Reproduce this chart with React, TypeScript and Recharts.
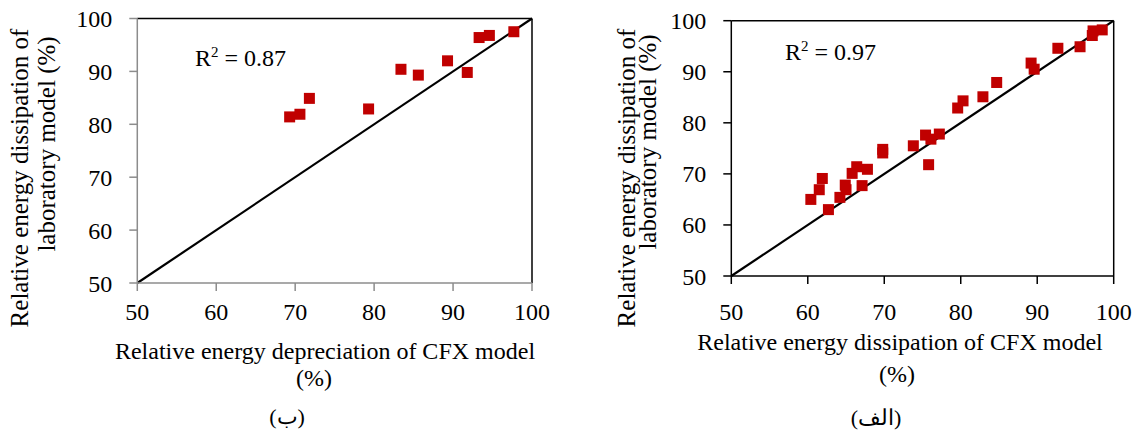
import React from "react";
import {
  ReferenceLine,
  Scatter,
  ScatterChart,
  XAxis,
  YAxis,
} from "recharts";

// Two "CFX vs laboratory" scatter panels with a 1:1 line.
// Panel (ب) on the left, panel (الف) on the right.

const TICKS = [50, 60, 70, 80, 90, 100];

// left panel (ب)
const leftCfx = [69.3, 70.6, 71.8, 79.3, 83.4, 85.6, 89.3, 91.8, 93.3, 94.6, 97.7];
const leftLab = [81.4, 81.9, 84.9, 82.9, 90.4, 89.3, 92.0, 89.8, 96.4, 96.8, 97.5];

// right panel (الف)
const rightCfx = [
  60.4, 61.5, 61.9, 62.7, 64.2, 64.9, 65.0, 65.8, 66.4, 67.1, 67.8, 69.8, 69.8,
  73.8, 75.4, 76.1, 77.2, 75.8, 79.6, 80.3, 82.9, 84.7, 89.2, 89.6, 92.7, 95.6,
  97.2, 97.3, 98.5,
];
const rightLab = [
  65.0, 66.9, 69.1, 63.0, 65.4, 67.8, 66.9, 70.1, 71.4, 67.7, 70.9, 74.8, 74.1,
  75.5, 77.6, 76.8, 77.8, 71.8, 82.9, 84.3, 85.1, 87.9, 91.7, 90.5, 94.6, 94.9,
  97.1, 98.0, 98.2,
];

const FONT = "'Liberation Serif', 'Times New Roman', serif";
const RED = "#C00000";
const Y_W = 60;
const X_H = 40;

const Square = (props: any) => {
  const { cx, cy } = props;
  if (cx == null || cy == null) return null;
  return <rect x={cx - 5.5} y={cy - 5.5} width={11} height={11} fill={RED} />;
};

type PanelProps = {
  left: number;
  width: number;
  margin: { top: number; right: number; bottom: number; left: number };
  cfx: number[];
  lab: number[];
  axisColor: string;
  tickGapX: number;
};

function Panel({ left, width, margin, cfx, lab, axisColor, tickGapX }: PanelProps) {
  const data = cfx.map((x, i) => ({ cfx: x, lab: lab[i] }));
  const tick = { fill: "#000", fontSize: 24, fontFamily: FONT };
  return (
    <div style={{ position: "absolute", left, top: 0 }}>
      <ScatterChart width={width} height={432} margin={margin}>
        <XAxis
          type="number"
          dataKey="cfx"
          domain={[50, 100]}
          ticks={TICKS}
          interval={0}
          height={X_H}
          tickSize={8}
          tickMargin={tickGapX}
          axisLine={{ stroke: axisColor, strokeWidth: 1.5 }}
          tickLine={{ stroke: axisColor, strokeWidth: 1.5 }}
          tick={tick}
        />
        <YAxis
          type="number"
          dataKey="lab"
          domain={[50, 100]}
          ticks={TICKS}
          interval={0}
          width={Y_W}
          tickSize={8}
          tickMargin={17}
          axisLine={{ stroke: axisColor, strokeWidth: 1.5 }}
          tickLine={{ stroke: axisColor, strokeWidth: 1.5 }}
          tick={tick}
        />
        <ReferenceLine y={100} stroke="#000" strokeWidth={1.5} ifOverflow="visible" />
        <ReferenceLine x={100} stroke="#000" strokeWidth={1.5} ifOverflow="visible" />
        <ReferenceLine
          segment={[
            { x: 50, y: 50 },
            { x: 100, y: 100 },
          ]}
          stroke="#000"
          strokeWidth={2.2}
          ifOverflow="visible"
        />
        <Scatter data={data} shape={Square} isAnimationActive={false} />
      </ScatterChart>
    </div>
  );
}

function Labels() {
  const t = { fontFamily: FONT, fill: "#000" };
  return (
    <svg
      width={1139}
      height={432}
      style={{ position: "absolute", left: 0, top: 0, pointerEvents: "none" }}
    >
      {/* left panel */}
      <text x={195} y={66} fontSize={24} {...t}>
        R<tspan dy={-9} fontSize={15}>2</tspan>
        <tspan dy={9}> = 0.87</tspan>
      </text>
      <text transform="translate(28,178) rotate(-90)" textAnchor="middle" fontSize={25} {...t}>
        Relative energy dissipation of
      </text>
      <text transform="translate(55,144) rotate(-90)" textAnchor="middle" fontSize={25} {...t}>
        laboratory model (%)
      </text>
      <text x={325} y={359} textAnchor="middle" fontSize={24} {...t}>
        Relative energy depreciation of CFX model
      </text>
      <text x={314} y={386} textAnchor="middle" fontSize={24} {...t}>
        (%)
      </text>
      <text x={287} y={424} textAnchor="middle" fontSize={22} {...t}>
        (ب)
      </text>

      {/* right panel */}
      <text x={785} y={60} fontSize={24} {...t}>
        R<tspan dy={-9} fontSize={15}>2</tspan>
        <tspan dy={9}> = 0.97</tspan>
      </text>
      <text transform="translate(635,178) rotate(-90)" textAnchor="middle" fontSize={25} {...t}>
        Relative energy dissipation of
      </text>
      <text transform="translate(656,142) rotate(-90)" textAnchor="middle" fontSize={25} {...t}>
        laboratory model (%)
      </text>
      <text x={900} y={350} textAnchor="middle" fontSize={24} {...t}>
        Relative energy dissipation of CFX model
      </text>
      <text x={897} y={382} textAnchor="middle" fontSize={24} {...t}>
        (%)
      </text>
      <text x={876} y={425} textAnchor="middle" fontSize={22} {...t}>
        (الف)
      </text>
    </svg>
  );
}

export default function App() {
  return (
    <div
      style={{
        position: "fixed",
        left: 0,
        top: 0,
        width: 1139,
        height: 432,
        background: "#fff",
        overflow: "hidden",
      }}
    >
      <Panel
        left={0}
        width={570}
        margin={{ top: 18.5, right: 38, left: 137.3 - Y_W, bottom: 432 - 283 - X_H }}
        cfx={leftCfx}
        lab={leftLab}
        axisColor="#8c8c8c"
        tickGapX={11.5}
      />
      <Panel
        left={570}
        width={569}
        margin={{ top: 20.7, right: 569 - 543.7, left: 161.3 - Y_W, bottom: 432 - 276 - X_H }}
        cfx={rightCfx}
        lab={rightLab}
        axisColor="#000"
        tickGapX={18.5}
      />
      <Labels />
    </div>
  );
}
